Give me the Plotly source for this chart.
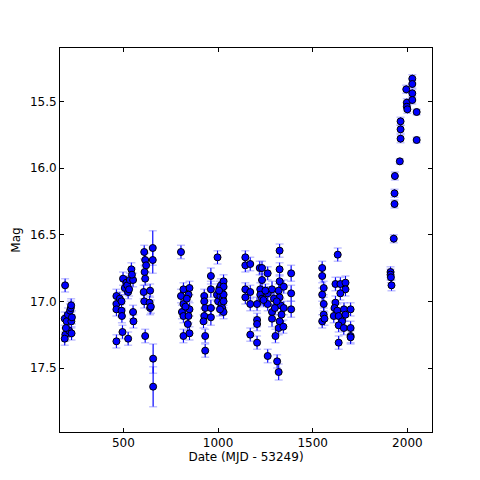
import plotly.graph_objects as go

dates = [
    192, 190, 193, 190, 200, 207, 213, 218, 222, 225, 226, 228, 224, 196,
    463, 463, 463, 463, 481, 490, 490, 492, 495, 498, 507, 516, 520, 525, 525, 534, 542, 551, 551, 553, 545, 530,
    610, 615, 612, 615, 607, 610, 641, 638, 641, 615, 655, 655, 657, 657, 645, 620,
    804, 817, 804, 849, 844, 817, 809, 849, 817, 844, 840, 817, 849, 835, 828,
    927, 927, 932, 927, 923, 932, 932, 962, 962, 962, 962, 997, 994, 1000, 1008, 1012, 1015, 1018, 1020, 1022, 1025, 1029, 1029, 1029, 1029, 1029, 1010, 1005,
    1144, 1144, 1170, 1144, 1144, 1170, 1170, 1170, 1206, 1206, 1206, 1206, 1220, 1232, 1232, 1223, 1223, 1232, 1262, 1262, 1262, 1262, 1285, 1285, 1285, 1303, 1312, 1320, 1325, 1325, 1325, 1320, 1325, 1330, 1335, 1325, 1320, 1347, 1347, 1345, 1386, 1386, 1386, 1295, 1300, 1310, 1250, 1240,
    1550, 1550, 1558, 1550, 1558, 1558, 1550, 1562,
    1632, 1620, 1646, 1673, 1673, 1646, 1620, 1615, 1630, 1665, 1700, 1611, 1637, 1673, 1655, 1637, 1664, 1700, 1700, 1700, 1637,
    1911, 1911, 1913, 1916, 1928, 1932, 1932, 1934, 1960, 1964, 1964, 1964, 1994, 1997, 1997, 2000, 2026, 2026, 2026, 2026, 2049, 2049,
]
mags = [
    16.88, 17.13, 17.25, 17.28, 17.15, 17.10, 17.22, 17.07, 17.05, 17.15, 17.24, 17.12, 17.03, 17.20,
    16.96, 17.02, 17.06, 17.30, 16.98, 17.00, 17.07, 17.11, 17.23, 16.83, 16.90, 16.86, 16.88, 17.28, 16.93, 16.84, 16.76, 16.84, 17.08, 17.15, 16.80, 16.91,
    16.63, 16.69, 16.78, 16.83, 16.93, 17.00, 16.92, 17.01, 17.05, 17.26, 16.60, 16.69, 17.43, 17.64, 17.04, 16.73,
    16.63, 16.91, 16.96, 16.90, 16.95, 17.02, 17.08, 17.06, 17.11, 17.11, 17.17, 17.26, 17.24, 16.98, 17.04,
    16.96, 17.00, 17.05, 17.11, 17.15, 17.26, 17.37, 16.81, 16.91, 17.05, 17.12, 16.67, 16.95, 17.00, 16.90, 16.96, 16.88, 17.02, 16.93, 17.05, 16.98, 16.85, 16.89, 16.95, 17.00, 17.08, 17.06, 16.92,
    16.67, 16.73, 16.72, 16.91, 16.97, 16.93, 17.02, 17.25, 17.02, 17.14, 17.17, 17.31, 16.75, 16.75, 16.84, 16.91, 16.95, 16.98, 16.79, 16.94, 17.02, 17.41, 16.91, 17.08, 17.13, 17.26, 17.45, 17.53, 16.62, 16.76, 16.85, 16.92, 16.97, 17.03, 17.10, 17.15, 17.20, 16.89, 17.05, 17.19, 16.79, 16.94, 17.06, 16.98, 17.05, 17.00, 16.92, 16.99,
    16.75, 16.81, 16.90, 16.95, 17.02, 17.10, 17.15, 17.13,
    16.65, 16.87, 16.87, 16.86, 16.91, 16.94, 17.01, 17.05, 17.07, 17.06, 17.06, 17.11, 17.11, 17.10, 17.15, 17.18, 17.20, 17.20, 17.26, 17.27, 17.31,
    16.78, 16.80, 16.82, 16.88, 16.53, 16.27, 16.19, 16.06, 15.95, 15.65, 15.71, 15.78, 15.41, 15.51, 15.54, 15.56, 15.33, 15.37, 15.44, 15.49, 15.58, 15.79,
]
errs = [
    0.05, 0.05, 0.05, 0.05, 0.05, 0.05, 0.05, 0.05, 0.05, 0.05, 0.05, 0.05, 0.05, 0.05,
    0.05, 0.05, 0.05, 0.05, 0.05, 0.05, 0.05, 0.05, 0.05, 0.05, 0.05, 0.05, 0.05, 0.05, 0.05, 0.05, 0.05, 0.05, 0.05, 0.05, 0.05, 0.05,
    0.05, 0.05, 0.05, 0.05, 0.05, 0.05, 0.05, 0.05, 0.05, 0.05, 0.13, 0.10, 0.11, 0.15, 0.05, 0.05,
    0.05, 0.05, 0.05, 0.05, 0.05, 0.05, 0.05, 0.05, 0.05, 0.05, 0.05, 0.05, 0.05, 0.05, 0.05,
    0.05, 0.05, 0.05, 0.05, 0.05, 0.05, 0.05, 0.06, 0.06, 0.06, 0.06, 0.05, 0.05, 0.05, 0.05, 0.05, 0.05, 0.05, 0.05, 0.05, 0.05, 0.05, 0.05, 0.05, 0.05, 0.05, 0.05, 0.05,
    0.05, 0.05, 0.05, 0.05, 0.05, 0.05, 0.05, 0.05, 0.05, 0.05, 0.05, 0.05, 0.05, 0.05, 0.05, 0.05, 0.05, 0.05, 0.05, 0.05, 0.05, 0.05, 0.06, 0.06, 0.06, 0.05, 0.05, 0.06, 0.05, 0.05, 0.05, 0.05, 0.05, 0.05, 0.05, 0.05, 0.05, 0.05, 0.05, 0.05, 0.06, 0.06, 0.06, 0.05, 0.05, 0.05, 0.05, 0.05,
    0.05, 0.05, 0.05, 0.05, 0.05, 0.05, 0.05, 0.05,
    0.05, 0.05, 0.05, 0.05, 0.05, 0.05, 0.05, 0.05, 0.05, 0.05, 0.05, 0.05, 0.05, 0.05, 0.05, 0.05, 0.05, 0.05, 0.05, 0.05, 0.05,
    0.04, 0.04, 0.04, 0.04, 0.03, 0.03, 0.03, 0.03, 0.02, 0.03, 0.03, 0.03, 0.03, 0.03, 0.03, 0.03, 0.03, 0.03, 0.03, 0.03, 0.02, 0.02,
]

x_ticks = [500, 1000, 1500, 2000]
y_ticks = [15.5, 16.0, 16.5, 17.0, 17.5]
y_tick_text = ["15.5", "16.0", "16.5", "17.0", "17.5"]

fig = go.Figure()
# light caps
fig.add_trace(go.Scatter(
    x=dates, y=mags, mode="markers",
    marker=dict(color="rgba(0,0,0,0)", size=1),
    error_y=dict(type="data", array=errs, visible=True,
                 color="rgba(120,120,255,0.45)", thickness=1.5, width=4),
    hoverinfo="skip", showlegend=False,
))
# stems + markers
fig.add_trace(go.Scatter(
    x=dates, y=mags, mode="markers",
    marker=dict(color="#0000ff", size=7, line=dict(color="black", width=1)),
    error_y=dict(type="data", array=errs, visible=True,
                 color="#0000ff", thickness=1, width=0),
    showlegend=False,
))

axis_common = dict(
    showline=True, linecolor="black", linewidth=1, mirror="ticks",
    ticks="inside", ticklen=4, tickcolor="black", showgrid=False, zeroline=False,
    tickfont=dict(family="DejaVu Sans", size=12, color="black"),
)
fig.update_layout(
    width=480, height=480,
    margin=dict(l=52, r=56, t=40, b=56, autoexpand=False),
    paper_bgcolor="white", plot_bgcolor="white",
    xaxis=dict(range=[165, 2130], tickvals=x_ticks,
               title=dict(text="Date (MJD - 53249)", standoff=2,
                          font=dict(family="DejaVu Sans", size=12, color="black")),
               **axis_common),
    yaxis=dict(range=[17.98, 15.1], tickvals=y_ticks, ticktext=y_tick_text,
               title=dict(text="Mag", standoff=6,
                          font=dict(family="DejaVu Sans", size=12, color="black")),
               **axis_common),
)
fig.write_html("out.html")
